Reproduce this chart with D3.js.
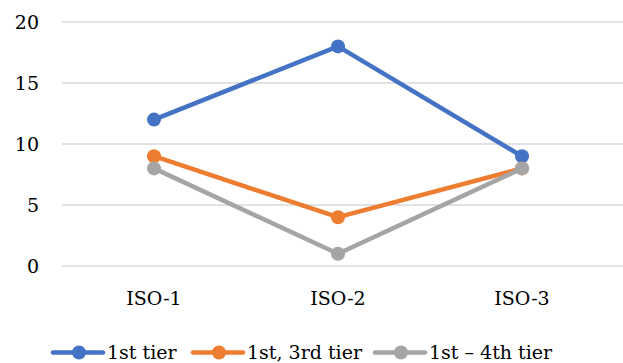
<!DOCTYPE html>
<html><head><meta charset="utf-8">
<script src="https://cdn.jsdelivr.net/npm/d3@7"></script>
<style>body{margin:0;background:#fff}svg{display:block}</style>
</head><body>
<script>
const categories = ["ISO-1", "ISO-2", "ISO-3"];
const seriesNames = ["1st tier", "1st, 3rd tier", "1st \u2013 4th tier"];
const tier1 = [12, 18, 9];
const tier13 = [9, 4, 8];
const tier14 = [8, 1, 8];
const yTicks = [0, 5, 10, 15, 20];
const colors = ["#4472C4", "#ED7D31", "#A5A5A5"];

const series = [
  {name: seriesNames[0], values: tier1, color: colors[0]},
  {name: seriesNames[1], values: tier13, color: colors[1]},
  {name: seriesNames[2], values: tier14, color: colors[2]}
];

const FONT = "'DejaVu Serif', serif";
const W = 623, H = 363;
const svg = d3.select("body").append("svg").attr("width", W).attr("height", H)
  .style("font-family", FONT).style("font-size", "19px");

const x = d3.scaleBand().domain(categories).range([62, 614]);
const y = d3.scaleLinear().domain([0, 20]).range([266, 22]);

svg.append("g").selectAll("line").data(yTicks).join("line")
  .attr("x1", 62).attr("x2", 623)
  .attr("y1", d => y(d)).attr("y2", d => y(d))
  .attr("stroke", "#D9D9D9").attr("stroke-width", 1.5);

svg.append("g").selectAll("text").data(yTicks).join("text")
  .attr("x", 39).attr("y", d => y(d)).attr("dy", "0.35em")
  .attr("text-anchor", "end").attr("fill", "#000").text(d => d);

svg.append("g").selectAll("text").data(categories).join("text")
  .attr("x", d => x(d) + x.bandwidth() / 2).attr("y", 305)
  .attr("text-anchor", "middle").attr("fill", "#000").text(d => d);

const line = d3.line().x((d, i) => x(categories[i]) + x.bandwidth() / 2).y(d => y(d));

const g = svg.append("g");
series.forEach(s => {
  g.append("path").datum(s.values).attr("d", line)
    .attr("fill", "none").attr("stroke", s.color).attr("stroke-width", 4.5)
    .attr("stroke-linejoin", "round");
  g.selectAll(null).data(s.values).join("circle")
    .attr("cx", (d, i) => x(categories[i]) + x.bandwidth() / 2)
    .attr("cy", d => y(d)).attr("r", 7).attr("fill", s.color);
});

const legX = [53, 193, 375];
const leg = svg.append("g");
series.forEach((s, i) => {
  const lx = legX[i], ly = 352.5;
  leg.append("line").attr("x1", lx).attr("x2", lx + 50).attr("y1", ly).attr("y2", ly)
    .attr("stroke", s.color).attr("stroke-width", 4.5).attr("stroke-linecap", "round");
  leg.append("circle").attr("cx", lx + 26).attr("cy", ly).attr("r", 7).attr("fill", s.color);
  leg.append("text").attr("x", lx + 54).attr("y", 359).attr("fill", "#000").text(s.name);
});
</script>
</body></html>
